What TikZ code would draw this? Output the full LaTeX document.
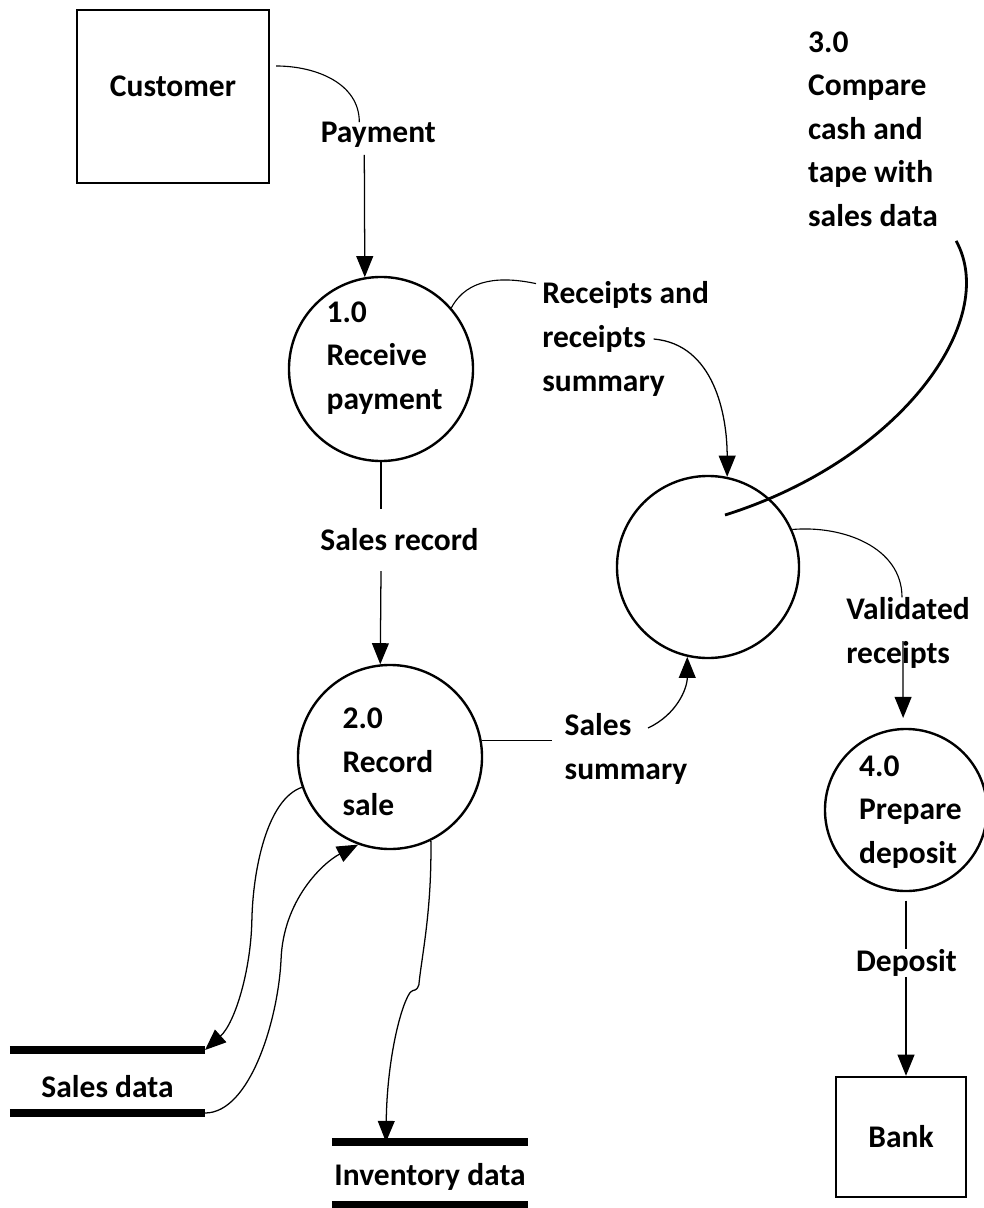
\documentclass[tikz,border=0pt]{standalone}
\usepackage{fontspec}
\setmainfont{Carlito}
\usepackage{tikz}
\usetikzlibrary{arrows.meta, calc}
\newlength{\procsize}
\setlength{\procsize}{4.6cm}
\tikzstyle{entity} = [rectangle, draw, line width=1.7pt, text centered]
\tikzstyle{process} = [circle, draw, line width=1.7pt, inner sep=0pt, minimum size=\procsize]
\tikzstyle{proctext} = [align=left, inner sep=0pt]
\tikzstyle{flowlabel} = [align=left, inner sep=0pt]
\tikzstyle{store} = [rectangle, inner sep=0pt, outer sep=0pt, minimum width=4.9cm, minimum height=1.575cm]
\tikzstyle{storeline} = [line width=6pt]
\tikzstyle{flow} = [line width=0.8pt]
\tikzstyle{arrow} = [line width=0.9pt, -{Triangle[length=15pt, width=12pt]}]
\tikzstyle{note} = [line width=2pt]

\begin{document}
\begin{tikzpicture}[x=0.025cm, y=-0.025cm, font=\bfseries\fontsize{22.4}{31}\selectfont]
    \useasboundingbox (0,0) rectangle (984,1208);

    % External entities
    \node (customer) [entity, minimum width=4.8cm, minimum height=4.325cm, text depth=14pt] at (173,96.5) {Customer};
    \node (bank) [entity, minimum width=3.25cm, minimum height=3cm] at (901,1137) {Bank};

    % Processes
    \node (p1) [process] at (381,369) {};
    \node (p1text) [proctext] at (384.5,358) {1.0\\Receive\\payment};
    \node (p2) [process] at (390,757) {};
    \node (p2text) [proctext] at (388,762) {2.0\\Record\\sale};
    \node (p3) [process, minimum size=4.55cm] at (708,567) {};
    \node (p3text) [proctext] at (873,129) {3.0\\Compare\\cash and\\tape with\\sales data};
    \node (p4) [process, minimum size=4.05cm] at (906,810) {};
    \node (p4text) [proctext] at (910.5,812) {4.0\\Prepare\\deposit};

    % Data stores
    \node (sales) [store, minimum width=4.875cm, text height=23.5pt] at (107.5,1081.5) {Sales data};
    \node (inv) [store, text height=20.7pt] at (430,1173.5) {Inventory data};
    \draw [storeline] (sales.north west) -- (sales.north east);
    \draw [storeline] (sales.south west) -- (sales.south east);
    \draw [storeline] (inv.north west) -- (inv.north east);
    \draw [storeline] (inv.south west) -- (inv.south east);

    % Flow labels
    \node (pay) [flowlabel] at (378.3,135) {Payment};
    \node (rec) [flowlabel, inner ysep=14pt] at (399.5,540) {Sales record};
    \node (rcpt) [flowlabel] at (625.6,339) {Receipts and\\receipts\\summary};
    \node (summ) [flowlabel] at (626,749) {Sales\\summary};
    \node (val) [flowlabel] at (908,633) {Validated\\receipts};
    \node (dep) [flowlabel] at (906.5,963) {Deposit};

    % ==== Flows
    \draw [flow] ($(customer.east)+(6,-30.5)$) to[out=0, in=90] ($(pay.north)+(-19,0)$);
    \draw [arrow] ($(pay.south)+(-14,7)$) -- (p1.100);

    \draw [flow] (p1.south) -- (p1.south |- rec.north);
    \draw [arrow] (p1.south |- rec.south) -- (p2.96);

    \draw [flow] (p1.41) to[out=62, in=168] ($(rcpt.north west)+(-6,2)$);
    \draw [arrow] ($(rcpt.center)+(28,0)$) to[out=-5, in=90] (p3.78);

    \draw [flow] (p2.10) -- ($(p2.10 -| summ.west)+(-12,0)$);
    \draw [arrow] ($(summ.center)+(22,-21)$) to[out=25, in=-90] (p3.257);

    % Comparison note
    \draw [note] ($(p3text.south east)+(18,14)$) .. controls +(44,80) and +(175,-55) .. ($(p3.center)+(17,-52)$);

    \draw [flow] (p3.24) to[out=5, in=90] ($(val.north)+(-6,0)$);
    \draw [arrow, shorten >=7pt] ($(val.center)+(-5,8)$) -- (p4.92);

    \draw [flow, shorten <=6pt] (p4.south) -- (p4.south |- dep.north);
    \draw [arrow] (p4.south |- dep.south) -- (p4.south |- bank.north);

    % Stores
    \draw [arrow] (p2.199) .. controls +(-35,12) and +(1,-50) .. ($(p2.199)+(-50,133)$)
        .. controls +(-1,50) and +(30,-27) .. (sales.north east);
    \draw [arrow] (sales.south east) .. controls +(45,0) and +(-3,60) .. ($(sales.south east)+(76,-153)$)
        .. controls +(2,-60) and +(-35,18) .. (p2.250);
    \draw [arrow] (p2.296) .. controls +(1,70) and +(3,-30) .. ($(p2.296)+(-12,144)$)
        .. controls +(-3,8) and +(5,-5) .. ($(p2.296)+(-21,152)$)
        .. controls +(-10,15) and +(1,-80) .. ($(inv.north west)+(54,0)$);

\end{tikzpicture}
\end{document}
